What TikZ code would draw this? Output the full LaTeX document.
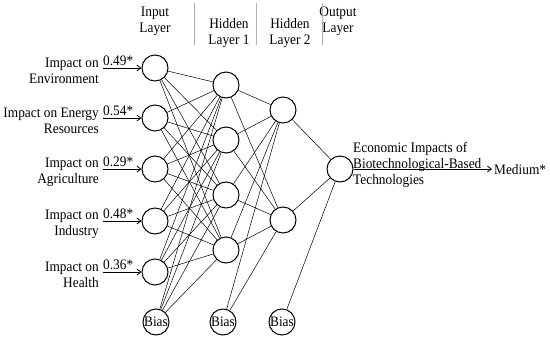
\documentclass[tikz,border=0pt]{standalone}
\usepackage{fontspec}
\setmainfont[FakeStretch=0.92]{Liberation Serif}
\usetikzlibrary{arrows.meta}
\begin{document}
\begin{tikzpicture}[x=1pt,y=-1pt,
  neuron/.style={circle,draw,line width=1pt,minimum size=26pt,inner sep=0pt},
  biasnode/.style={neuron,font=\fontsize{14.5}{14.5}\selectfont},
  conn/.style={line width=0.5pt},
  lbl/.style={font=\fontsize{14.5}{16}\selectfont,inner sep=0pt},
  inarrow/.style={-{Straight Barb[length=4pt,width=6pt]},line width=0.8pt},
  sep/.style={draw=gray!60,line width=0.8pt}]
\useasboundingbox (0,0) rectangle (550,338);
% headers
\node[lbl,align=center] (hin) at (155,21) {Input\\Layer};
\node[lbl,align=center] (hh1) at (229,33) {Hidden\\Layer 1};
\node[lbl,align=center] (hh2) at (290,33) {Hidden\\Layer 2};
\node[lbl,align=center] (hout) at (338,21) {Output\\Layer};
\coordinate (s1a) at (194,3); \coordinate (s1b) at (194,45);
\coordinate (s2a) at (256,3); \coordinate (s2b) at (256,45);
\coordinate (s3a) at (322,3); \coordinate (s3b) at (322,45);
\draw[sep] (s1a) -- (s1b);
\draw[sep] (s2a) -- (s2b);
\draw[sep] (s3a) -- (s3b);
% input layer
\node[neuron] (i1) at (155,68) {};
\node[neuron] (i2) at (155,118) {};
\node[neuron] (i3) at (155,169) {};
\node[neuron] (i4) at (155,221) {};
\node[neuron] (i5) at (155,272) {};
\node[biasnode] (b0) at (156,322) {Bias};
% hidden 1
\node[neuron] (h1) at (226,85) {};
\node[neuron] (h2) at (226,140) {};
\node[neuron] (h3) at (226,195) {};
\node[neuron] (h4) at (226,250) {};
\node[biasnode] (b1) at (223,322) {Bias};
% hidden 2
\node[neuron] (g1) at (283,110) {};
\node[neuron] (g2) at (283,220) {};
\node[biasnode] (b2) at (282,322) {Bias};
% output
\node[neuron] (o) at (340,169) {};
% connections
\foreach \i in {i1,i2,i3,i4,i5,b0}
  \foreach \h in {h1,h2,h3,h4}
    \draw[conn] (\i) -- (\h);
\foreach \h in {h1,h2,h3,h4,b1}
  \foreach \g in {g1,g2}
    \draw[conn] (\h) -- (\g);
\foreach \g in {g1,g2,b2}
  \draw[conn] (\g) -- (o);
% input labels and arrows
\foreach \n/\y/\t/\w in {i1/68/{Impact on\\Environment}/0.49*,
                         i2/118/{Impact on Energy\\Resources}/0.54*,
                         i3/169/{Impact on\\Agriculture}/0.29*,
                         i4/221/{Impact on\\Industry}/0.48*,
                         i5/272/{Impact on\\Health}/0.36*}{
  \coordinate (a\n) at (103,\y);
  \draw[inarrow] (a\n) -- (\n);
  \node[lbl,align=right,anchor=east] (t\n) at (99,\y+3) {\t};
  \node[lbl,anchor=base west] (w\n) at (103,\y-3) {\w};
}
% output
\coordinate (oend) at (492,169);
\draw[inarrow] (o) -- (oend);
\node[lbl,anchor=west] (med) at (494,170) {Medium*};
\node[lbl,align=left,anchor=west] (olab) at (353,165) {Economic Impacts of\\Biotechnological-Based\\Technologies};
\end{tikzpicture}
\end{document}
